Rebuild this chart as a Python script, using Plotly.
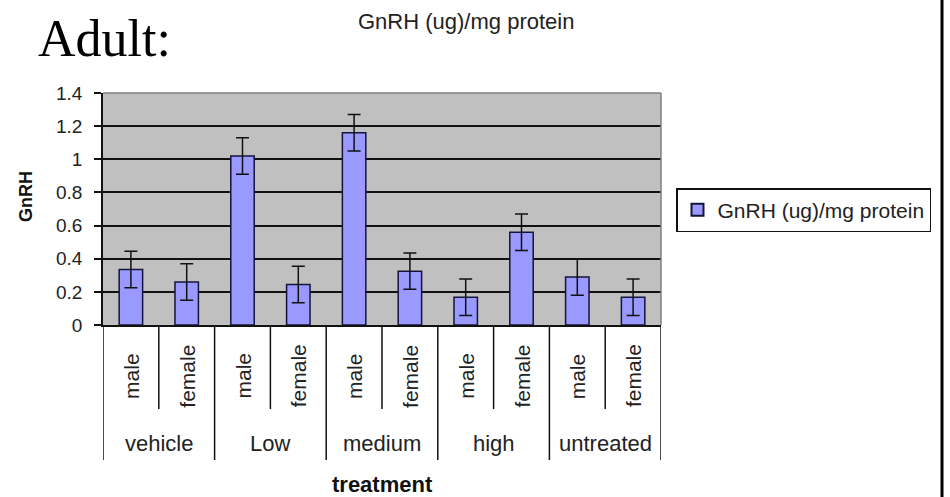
import plotly.graph_objects as go

# ---- data ----
groups = ["vehicle", "Low", "medium", "high", "untreated"]
sexes = ["male", "female"]
values = [0.335, 0.26, 1.02, 0.245, 1.16, 0.325, 0.167, 0.56, 0.29, 0.167]
errors = [0.11, 0.11, 0.11, 0.11, 0.11, 0.11, 0.11, 0.11, 0.11, 0.11]
series_name = "GnRH (ug)/mg protein"
y_ticks = [0, 0.2, 0.4, 0.6, 0.8, 1.0, 1.2, 1.4]
y_tick_text = ["0", "0.2", "0.4", "0.6", "0.8", "1", "1.2", "1.4"]

W, H = 950, 497
L, R, T, B = 103, 661, 93, 325   # plot area in pixels


def px(X):
    return (X - L) / (R - L)


def py(Y):
    return (B - Y) / (B - T)


labels = [s for g in groups for s in sexes]
xpos = list(range(len(labels)))

FONT = "Liberation Sans, Arial, sans-serif"

fig = go.Figure()
fig.add_trace(go.Bar(
    x=xpos, y=values, name=series_name, width=0.42,
    marker=dict(color="#9999FF", line=dict(color="#14143a", width=1.5)),
    error_y=dict(type="data", array=errors, visible=True,
                 color="#111111", thickness=1.5, width=6.5),
    showlegend=True,
))

shapes = []
# gray border at top and right of plot area
shapes.append(dict(type="line", xref="paper", yref="paper", x0=0, x1=1, y0=1, y1=1,
                   line=dict(color="#808080", width=1.5)))
shapes.append(dict(type="line", xref="paper", yref="paper", x0=1, x1=1, y0=0, y1=1,
                   line=dict(color="#808080", width=1.5)))
# category dividers
n = len(labels)
for i in range(n + 1):
    xb = i - 0.5
    y1 = py(460) if i % 2 == 0 else py(409)
    shapes.append(dict(type="line", xref="x", yref="paper", x0=xb, x1=xb, y0=0, y1=y1,
                       line=dict(color="#111111", width=1.5)))
# right slide border line (filled strip)
shapes.append(dict(type="rect", xref="paper", yref="paper",
                   x0=px(940.5), x1=px(943.5), y0=py(H), y1=py(0),
                   fillcolor="#000000", line=dict(width=0), layer="above"))

annotations = []
for i, s in enumerate(labels):
    annotations.append(dict(x=i, y=py(376), xref="x", yref="paper", text=s,
                            textangle=-90, showarrow=False,
                            font=dict(family=FONT, size=21, color="#222222"),
                            xanchor="center", yanchor="middle"))
for g, name in enumerate(groups):
    annotations.append(dict(x=2 * g + 0.5, y=py(443), xref="x", yref="paper", text=name,
                            showarrow=False,
                            font=dict(family=FONT, size=22, color="#222222"),
                            xanchor="center", yanchor="middle"))
annotations.append(dict(x=px(382), y=py(484), xref="paper", yref="paper",
                        text="<b>treatment</b>", showarrow=False,
                        font=dict(family=FONT, size=22, color="#111111"),
                        xanchor="center", yanchor="middle"))
annotations.append(dict(x=px(26), y=py(197), xref="paper", yref="paper",
                        text="<b>GnRH</b>", textangle=-90, showarrow=False,
                        font=dict(family=FONT, size=18, color="#111111"),
                        xanchor="center", yanchor="middle"))
annotations.append(dict(x=px(466), y=py(21), xref="paper", yref="paper",
                        text=series_name, showarrow=False,
                        font=dict(family=FONT, size=22, color="#222222"),
                        xanchor="center", yanchor="middle"))
annotations.append(dict(x=px(36), y=py(38), xref="paper", yref="paper",
                        text="Adult:", showarrow=False,
                        font=dict(family="Liberation Serif, Times New Roman, serif",
                                  size=52, color="#000000"),
                        xanchor="left", yanchor="middle"))

fig.update_layout(
    width=W, height=H,
    margin=dict(l=L, r=W - R, t=T, b=H - B, pad=0),
    paper_bgcolor="#FFFFFF", plot_bgcolor="#C0C0C0",
    font=dict(family=FONT, color="#222222"),
    xaxis=dict(range=[-0.5, n - 0.5], showticklabels=False, showgrid=False,
               zeroline=False, showline=True, linecolor="#111111", linewidth=1.5,
               ticks=""),
    yaxis=dict(range=[0, 1.4], tickvals=y_ticks, ticktext=y_tick_text,
               showgrid=True, gridcolor="#111111", gridwidth=1.5,
               zeroline=False, showline=True, linecolor="#111111", linewidth=1.5,
               ticks="outside", ticklen=7, tickwidth=1.5, tickcolor="#111111",
               tickfont=dict(family=FONT, size=19, color="#222222"),
               ticklabelstandoff=8),
    legend=dict(x=px(676), y=py(188), xanchor="left", yanchor="top",
                bordercolor="#111111", borderwidth=1.5, bgcolor="#FFFFFF",
                font=dict(family=FONT, size=21, color="#222222"),
                itemsizing="constant"),
    shapes=shapes,
    annotations=annotations,
)

fig.write_html(
    "out.html",
    config={"displayModeBar": False},
    post_script="document.body.style.margin='0';document.body.style.overflow='hidden';"
                "document.documentElement.style.overflow='hidden';",
)
